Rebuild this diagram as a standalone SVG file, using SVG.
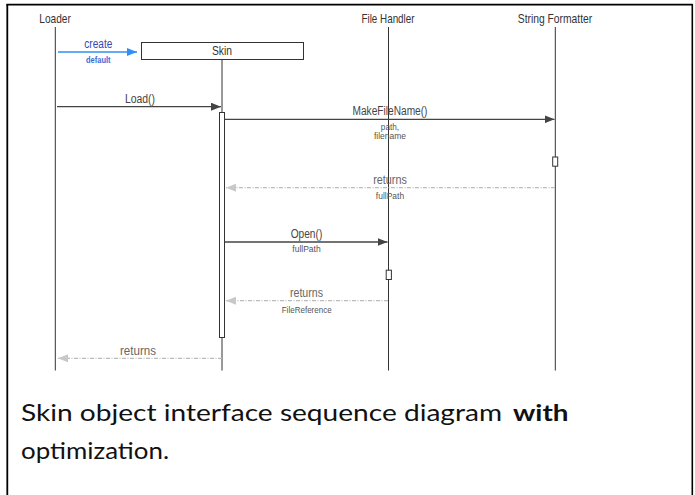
<svg xmlns="http://www.w3.org/2000/svg" width="695" height="495" viewBox="0 0 695 495">
  <style>
    .hdr { font-family: "Liberation Sans", Arial, sans-serif; font-size: 13px; fill: #333; text-anchor: middle; }
    .msg { font-family: "Liberation Sans", Arial, sans-serif; font-size: 12px; fill: #444; text-anchor: middle; }
    .arg { font-family: "Liberation Sans", Arial, sans-serif; font-size: 9px; fill: #555; text-anchor: middle; }
    .ret { font-family: "Liberation Sans", Arial, sans-serif; font-size: 12px; fill: #666; text-anchor: middle; }
    .life { stroke: #333; stroke-width: 1; fill: none; }
    .call { stroke: #444; stroke-width: 1.3; fill: none; marker-end: url(#solid); }
    .back { stroke: #bbb; stroke-width: 1.2; stroke-dasharray: 4 1.5 1 1.5; fill: none; marker-end: url(#light); }
    .box { fill: #fff; stroke: #333; stroke-width: 1; }
    .caption { font-family: Lato, "Liberation Sans", sans-serif; font-size: 23px; fill: #111; }
  </style>
  <defs>
    <marker id="solid" viewBox="0 0 10 8" refX="10" refY="4" markerWidth="10" markerHeight="8" markerUnits="userSpaceOnUse" orient="auto">
      <path d="M0,0 L10,4 L0,8 Z" fill="#444"/>
    </marker>
    <marker id="light" viewBox="0 0 10 8" refX="10" refY="4" markerWidth="10" markerHeight="8" markerUnits="userSpaceOnUse" orient="auto">
      <path d="M0,0 L10,4 L0,8 Z" fill="#c8c8c8"/>
    </marker>
    <marker id="blue" viewBox="0 0 10 8" refX="10" refY="4" markerWidth="10" markerHeight="8" markerUnits="userSpaceOnUse" orient="auto">
      <path d="M0,0 L10,4 L0,8 Z" fill="#2f8ff5"/>
    </marker>
  </defs>

  <!-- frame -->
  <g id="frame" stroke="#000" fill="none">
    <line x1="6.5" y1="4.6" x2="692.5" y2="4.6" stroke-width="1.6"/>
    <line x1="7.3" y1="4" x2="7.3" y2="495" stroke-width="1.8"/>
    <line x1="692.3" y1="4" x2="692.3" y2="495" stroke-width="1.6"/>
  </g>

  <!-- participants -->
  <g id="loader">
    <text class="hdr" x="55" y="23" textLength="31.5" lengthAdjust="spacingAndGlyphs">Loader</text>
    <line class="life" x1="55.3" y1="27" x2="55.3" y2="370.5"/>
  </g>
  <g id="skin">
    <rect class="box" x="141.5" y="42.5" width="162" height="17"/>
    <text class="hdr" x="222" y="54.5" textLength="20" lengthAdjust="spacingAndGlyphs">Skin</text>
    <line class="life" x1="222" y1="59.5" x2="222" y2="370.5"/>
    <rect class="box" x="219.5" y="112.5" width="5" height="225"/>
  </g>
  <g id="file-handler">
    <text class="hdr" x="388" y="23" textLength="53" lengthAdjust="spacingAndGlyphs">File Handler</text>
    <line class="life" x1="388.5" y1="27" x2="388.5" y2="370.5"/>
    <rect class="box" x="386.2" y="270.2" width="5.2" height="9.3"/>
  </g>
  <g id="string-formatter">
    <text class="hdr" x="555" y="23" textLength="74.5" lengthAdjust="spacingAndGlyphs">String Formatter</text>
    <line class="life" x1="555.3" y1="27" x2="555.3" y2="370.5"/>
    <rect class="box" x="552.7" y="157" width="5" height="9.2"/>
  </g>

  <!-- messages -->
  <g id="connectors">
    <line x1="58" y1="52" x2="137" y2="52" stroke="#2f8ff5" stroke-width="1.6" marker-end="url(#blue)"/>
    <text x="98.3" y="47.5" font-family="Liberation Sans, Arial, sans-serif" font-size="12" fill="#3448b8" text-anchor="middle" textLength="28" lengthAdjust="spacingAndGlyphs">create</text>
    <text x="98.3" y="63" font-family="Liberation Sans, Arial, sans-serif" font-size="8.5" font-weight="bold" fill="#3a6ad8" text-anchor="middle" textLength="24.5" lengthAdjust="spacingAndGlyphs">default</text>

    <line class="call" x1="57" y1="106.7" x2="221" y2="106.7"/>
    <text class="msg" x="140" y="102.5" textLength="30" lengthAdjust="spacingAndGlyphs">Load()</text>

    <line class="call" x1="224.7" y1="119.3" x2="554.5" y2="119.3"/>
    <text class="msg" x="390" y="115" fill="#3e4b5c" textLength="75" lengthAdjust="spacingAndGlyphs">MakeFileName()</text>
    <text class="arg" x="390" y="129.5" font-size="8.5" textLength="18.3" lengthAdjust="spacingAndGlyphs">path,</text>
    <text class="arg" x="390" y="139.3" font-size="8.5" textLength="32" lengthAdjust="spacingAndGlyphs">filename</text>

    <line class="back" x1="555" y1="187.7" x2="226" y2="187.7"/>
    <text class="ret" x="390" y="183.5" textLength="33.7" lengthAdjust="spacingAndGlyphs">returns</text>
    <text class="arg" x="390" y="199" textLength="28.3" lengthAdjust="spacingAndGlyphs">fullPath</text>

    <line class="call" x1="224.7" y1="242" x2="387.5" y2="242"/>
    <text class="msg" x="306.5" y="238.3" fill="#3e4b5c" textLength="31.6" lengthAdjust="spacingAndGlyphs">Open()</text>
    <text class="arg" x="306.5" y="252.3" textLength="28.4" lengthAdjust="spacingAndGlyphs">fullPath</text>

    <line class="back" x1="388" y1="300.7" x2="226" y2="300.7"/>
    <text class="ret" x="306.5" y="297" textLength="33" lengthAdjust="spacingAndGlyphs">returns</text>
    <text class="arg" x="306.7" y="312.5" textLength="50" lengthAdjust="spacingAndGlyphs">FileReference</text>

    <line class="back" x1="222" y1="358.3" x2="58" y2="358.3"/>
    <text class="ret" x="138" y="355" textLength="36" lengthAdjust="spacingAndGlyphs">returns</text>
  </g>

  <!-- caption -->
  <g id="caption">
    <text class="caption" x="21" y="421" textLength="481" lengthAdjust="spacingAndGlyphs">Skin object interface sequence diagram</text>
    <text class="caption" x="513" y="421" font-weight="bold" textLength="55.5" lengthAdjust="spacingAndGlyphs">with</text>
    <text class="caption" x="21" y="459" textLength="148" lengthAdjust="spacingAndGlyphs">optimization.</text>
  </g>
</svg>
